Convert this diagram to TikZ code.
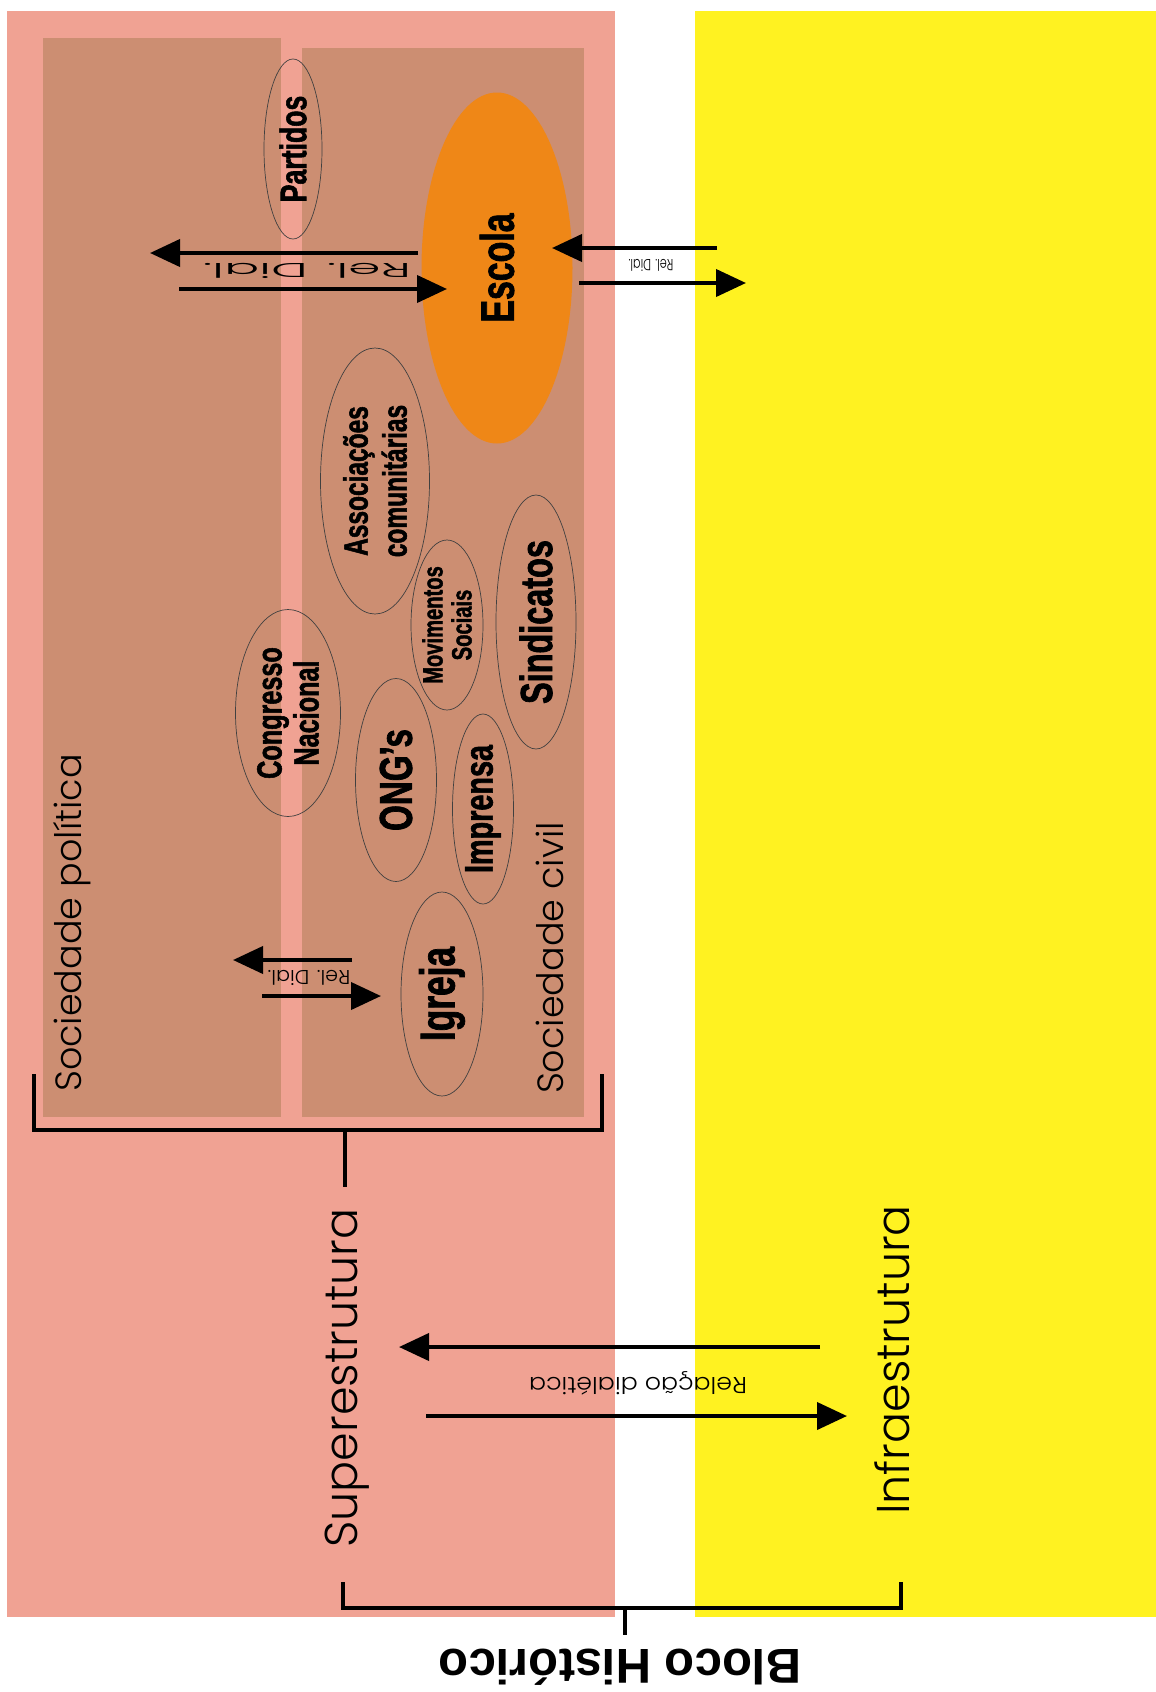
\documentclass[tikz,border=0pt]{standalone}
\usepackage{graphicx}
\usepackage{fontspec}
\usetikzlibrary{shapes.geometric,arrows.meta}
\newfontfamily\thinf{Poppins}[UprightFont={* Light}]
\newfontfamily\condf[FakeStretch=0.72,FakeBold=1.5]{Liberation Sans}
\newfontfamily\headf{Liberation Sans}
\definecolor{rosa}{HTML}{F0A293}
\definecolor{terra}{HTML}{CC8E72}
\definecolor{laranja}{HTML}{EF8717}
\definecolor{amarelo}{HTML}{FFF221}
\newcommand\fsz[2]{\fontsize{#1}{#2}\selectfont}
\begin{document}
\begin{tikzpicture}[x=1pt,y=-1pt,
  org/.style={ellipse, draw=black!75, line width=0.7pt, inner sep=0pt,
    rotate=90, align=center},
  lab/.style={font=\condf\bfseries\fsz{#1}{#1}},
  thin/.style={inner sep=0pt, font=\thinf},
  dial/.style={line width=4pt, -{Triangle[length=30pt,width=27pt]}},
  brk/.style={line width=4.5pt, line join=miter}
]
\useasboundingbox (0,0) rectangle (1156,1692);
\fill[white] (0,0) rectangle (1156,1692);
% the two structures
\fill[rosa] (7,11) rectangle (615,1617);
\fill[amarelo] (695,11) rectangle (1156,1617);
% political and civil society
\fill[terra] (43,38) rectangle (281,1117);
\fill[terra] (302,48) rectangle (584,1117);

% institutions
\node[ellipse, fill=laranja, inner sep=0pt, rotate=90, minimum width=351pt,
  minimum height=151pt, lab=47] (escola) at (497,268) {Escola};
\node[org, minimum width=180pt, minimum height=58pt, lab=37] (partidos) at (293,149)
  {Partidos};
\node[org, minimum width=266pt, minimum height=109pt,
  font=\condf\bfseries\fsz{34}{39}] (assoc) at (375,481)
  {Associações\\comunitárias};
\node[org, minimum width=170pt, minimum height=72pt,
  font=\condf\bfseries\fsz{28}{29}] (movim) at (447,625)
  {Movimentos\\Sociais};
\node[org, minimum width=254pt, minimum height=80pt, lab=45] (sindic) at (536,622)
  {Sindicatos};
\node[org, minimum width=207pt, minimum height=105pt,
  font=\condf\bfseries\fsz{35}{37}] (congr) at (288,713)
  {Congresso\\Nacional};
\node[org, minimum width=203pt, minimum height=81pt, lab=46] (ong) at (396,780)
  {ONG’s};
\node[org, minimum width=190pt, minimum height=61pt, lab=40] (impr) at (483,809)
  {Imprensa};
\node[org, minimum width=204pt, minimum height=82pt, lab=49] (igreja) at (442,994)
  {Igreja};

% section titles
\node[thin, rotate=90, font=\thinf\fsz{36.5}{40}] (socpol) at (72,923) {Sociedade política};
\node[thin, rotate=90, font=\thinf\fsz{36.5}{40}] (socciv) at (550,958) {Sociedade civil};
\node[thin, rotate=90, font=\thinf\fsz{46}{50}] (super) at (347,1378) {Superestrutura};
\node[thin, rotate=90, font=\thinf\fsz{46}{50}] (infra) at (892,1360) {Infraestrutura};
\node[inner sep=0pt, rotate=180, font=\headf\bfseries\fsz{49}{52}] (bloco) at (620,1667) {Bloco Histórico};

% dialectical relations
\coordinate (p1a) at (418,253); \coordinate (p1b) at (150,253);
\coordinate (p2a) at (179,289); \coordinate (p2b) at (447,289);
\draw[dial] (p1a) -- (p1b);
\draw[dial] (p2a) -- (p2b);
\node[thin, rotate=180, font=\thinf\fsz{20}{22}] (rd1) at (307,271) {\scalebox{2.6}[1]{Rel. Dial.}};

\coordinate (e1a) at (717,248); \coordinate (e1b) at (552,248);
\coordinate (e2a) at (579,283); \coordinate (e2b) at (746,283);
\draw[dial] (e1a) -- (e1b);
\draw[dial] (e2a) -- (e2b);
\node[thin, rotate=180, font=\thinf\fsz{16}{18}] (rd2) at (651,265) {\scalebox{0.7}[1]{Rel. Dial.}};

\coordinate (i1a) at (352,960); \coordinate (i1b) at (233,960);
\coordinate (i2a) at (262,996); \coordinate (i2b) at (381,996);
\draw[dial] (i1a) -- (i1b);
\draw[dial] (i2a) -- (i2b);
\node[thin, rotate=180, font=\thinf\fsz{20}{22}] (rd3) at (309,978) {\scalebox{1.03}[1]{Rel. Dial.}};

\coordinate (b1a) at (820,1347); \coordinate (b1b) at (399,1347);
\coordinate (b2a) at (426,1416); \coordinate (b2b) at (847,1416);
\draw[dial] (b1a) -- (b1b);
\draw[dial] (b2a) -- (b2b);
\node[thin, rotate=180, font=\thinf\fsz{23}{25}] (rd4) at (638,1383) {\scalebox{1.1}[1]{Relação dialética}};

% brackets
\coordinate (t1) at (34,1074); \coordinate (t2) at (602,1074);
\coordinate (tm) at (345,1130); \coordinate (ts) at (345,1187);
\draw[brk] (t1) |- (tm) -| (t2);
\draw[brk] (tm) -- (ts);
\coordinate (u1) at (343,1582); \coordinate (u2) at (901,1582);
\coordinate (um) at (625,1608); \coordinate (us) at (625,1635);
\draw[brk] (u1) |- (um) -| (u2);
\draw[brk] (um) -- (us);
\end{tikzpicture}
\end{document}
